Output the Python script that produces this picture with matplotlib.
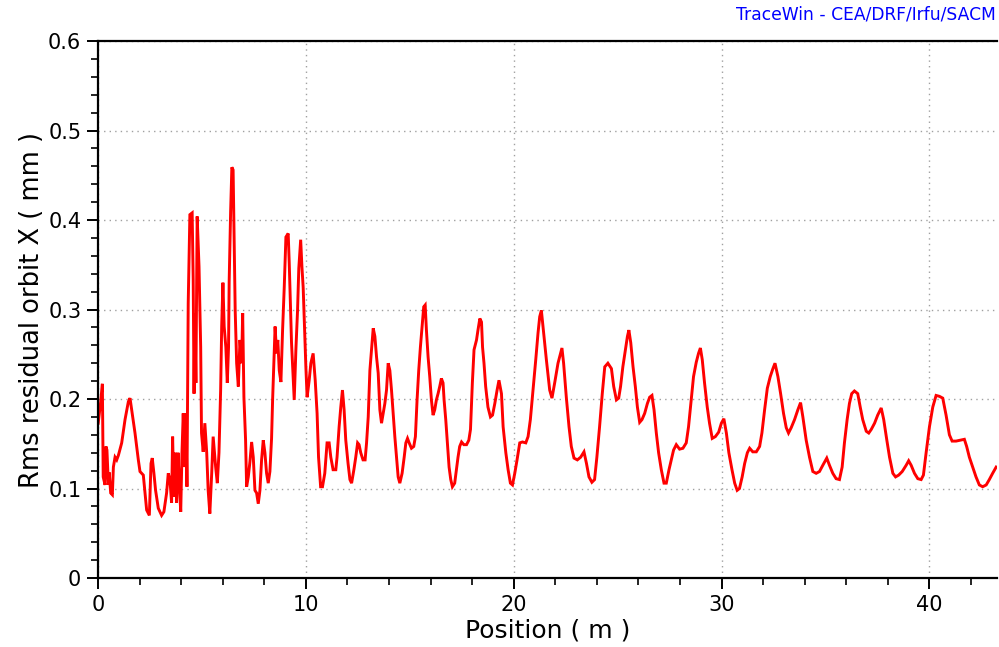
import matplotlib
matplotlib.use("Agg")
import matplotlib.pyplot as plt
from matplotlib.ticker import MultipleLocator, FuncFormatter

# Position (m)
position = [0.01, 0.13, 0.21, 0.25, 0.34, 0.38, 0.43, 0.50, 0.54, 0.61, 0.69, 0.74, 0.82, 0.90, 0.98,
            1.14, 1.30, 1.46, 1.54, 1.62, 1.78, 1.94, 2.02, 2.18, 2.26, 2.34, 2.47, 2.55, 2.61, 2.69,
            2.77, 2.90, 3.06, 3.17, 3.30, 3.38, 3.46, 3.54, 3.59, 3.65, 3.72, 3.78, 3.85, 3.91, 3.98,
            4.04, 4.10, 4.18, 4.23, 4.28, 4.34, 4.42, 4.53, 4.58, 4.62, 4.66, 4.71, 4.77, 4.86, 4.94,
            4.98, 5.06, 5.14, 5.23, 5.30, 5.38, 5.47, 5.54, 5.66, 5.74, 5.82, 5.90, 5.95, 6.01, 6.07,
            6.15, 6.22, 6.28, 6.31, 6.38, 6.44, 6.50, 6.55, 6.60, 6.67, 6.75, 6.83, 6.91, 6.96, 7.02,
            7.10, 7.15, 7.23, 7.31, 7.39, 7.47, 7.55, 7.63, 7.71, 7.79, 7.87, 7.95, 8.03, 8.11, 8.19,
            8.27, 8.35, 8.40, 8.46, 8.52, 8.59, 8.65, 8.72, 8.80, 8.88, 8.96, 9.04, 9.15, 9.20, 9.26,
            9.31, 9.39, 9.44, 9.52, 9.60, 9.66, 9.75, 9.81, 9.87, 9.94, 10.00, 10.06, 10.16, 10.24, 10.35,
            10.45, 10.54, 10.61, 10.71, 10.80, 10.91, 11.02, 11.12, 11.20, 11.31, 11.44, 11.50, 11.60, 11.68, 11.76,
            11.84, 11.92, 12.03, 12.12, 12.20, 12.31, 12.40, 12.49, 12.56, 12.64, 12.75, 12.85, 12.92, 13.00, 13.08,
            13.16, 13.24, 13.32, 13.40, 13.48, 13.56, 13.64, 13.72, 13.80, 13.88, 13.96, 14.04, 14.12, 14.20, 14.28,
            14.36, 14.44, 14.52, 14.63, 14.73, 14.81, 14.89, 14.97, 15.08, 15.19, 15.27, 15.35, 15.43, 15.51, 15.59,
            15.67, 15.74, 15.80, 15.88, 15.96, 16.04, 16.12, 16.20, 16.28, 16.36, 16.44, 16.52, 16.60, 16.65, 16.73,
            16.81, 16.89, 16.97, 17.05, 17.16, 17.24, 17.32, 17.40, 17.49, 17.60, 17.73, 17.84, 17.92, 18.01, 18.09,
            18.21, 18.28, 18.37, 18.45, 18.50, 18.57, 18.65, 18.76, 18.88, 18.98, 19.09, 19.20, 19.29, 19.41, 19.49,
            19.62, 19.73, 19.84, 19.94, 20.05, 20.16, 20.29, 20.42, 20.58, 20.69, 20.80, 20.93, 21.06, 21.17, 21.25,
            21.33, 21.44, 21.57, 21.73, 21.84, 21.97, 22.13, 22.25, 22.32, 22.40, 22.53, 22.66, 22.77, 22.90, 23.06,
            23.22, 23.38, 23.50, 23.62, 23.76, 23.89, 24.00, 24.13, 24.26, 24.38, 24.53, 24.70, 24.81, 24.94, 25.05,
            25.14, 25.25, 25.37, 25.47, 25.54, 25.63, 25.74, 25.85, 25.95, 26.06, 26.17, 26.30, 26.43, 26.54, 26.65,
            26.75, 26.86, 26.97, 27.10, 27.23, 27.34, 27.47, 27.58, 27.69, 27.82, 27.98, 28.14, 28.30, 28.41, 28.54,
            28.65, 28.78, 28.89, 28.98, 29.07, 29.18, 29.31, 29.42, 29.55, 29.70, 29.86, 29.99, 30.11, 30.23, 30.35,
            30.50, 30.63, 30.75, 30.86, 30.99, 31.11, 31.24, 31.35, 31.50, 31.67, 31.83, 31.94, 32.07, 32.20, 32.34,
            32.47, 32.57, 32.71, 32.84, 32.98, 33.11, 33.22, 33.35, 33.51, 33.67, 33.80, 33.91, 34.07, 34.23, 34.39,
            34.55, 34.71, 34.87, 35.06, 35.19, 35.35, 35.51, 35.67, 35.80, 35.91, 36.04, 36.15, 36.26, 36.39, 36.55,
            36.67, 36.79, 36.96, 37.08, 37.20, 37.36, 37.51, 37.68, 37.80, 37.95, 38.08, 38.24, 38.37, 38.52, 38.69,
            38.88, 39.00, 39.12, 39.28, 39.44, 39.60, 39.71, 39.84, 40.00, 40.16, 40.32, 40.48, 40.64, 40.80, 40.96,
            41.09, 41.28, 41.48, 41.68, 41.79, 41.92, 42.08, 42.24, 42.40, 42.56, 42.73, 42.88, 43.04, 43.21]

# Rms residual orbit X (mm)
rms_orbit_x = [0.173, 0.197, 0.217, 0.113, 0.104, 0.147, 0.143, 0.104, 0.118, 0.095, 0.093, 0.124, 0.135, 0.132, 0.137,
               0.151, 0.177, 0.197, 0.201, 0.188, 0.162, 0.132, 0.119, 0.115, 0.096, 0.076, 0.070, 0.128, 0.134, 0.117,
               0.098, 0.078, 0.070, 0.074, 0.095, 0.117, 0.110, 0.084, 0.158, 0.091, 0.140, 0.084, 0.140, 0.106, 0.074,
               0.140, 0.184, 0.124, 0.184, 0.102, 0.307, 0.406, 0.408, 0.333, 0.206, 0.296, 0.218, 0.404, 0.348, 0.258,
               0.162, 0.141, 0.173, 0.140, 0.098, 0.072, 0.117, 0.158, 0.124, 0.106, 0.140, 0.210, 0.281, 0.330, 0.281,
               0.258, 0.218, 0.258, 0.331, 0.409, 0.459, 0.456, 0.374, 0.299, 0.240, 0.214, 0.266, 0.240, 0.296, 0.202,
               0.154, 0.102, 0.113, 0.130, 0.152, 0.135, 0.098, 0.095, 0.083, 0.098, 0.132, 0.154, 0.140, 0.117, 0.106,
               0.119, 0.156, 0.199, 0.240, 0.281, 0.251, 0.266, 0.232, 0.219, 0.277, 0.325, 0.381, 0.385, 0.352, 0.303,
               0.263, 0.225, 0.199, 0.255, 0.299, 0.346, 0.378, 0.348, 0.325, 0.277, 0.236, 0.202, 0.221, 0.240, 0.251,
               0.221, 0.184, 0.135, 0.102, 0.102, 0.117, 0.151, 0.151, 0.135, 0.121, 0.121, 0.135, 0.169, 0.191, 0.210,
               0.188, 0.154, 0.128, 0.110, 0.106, 0.121, 0.135, 0.151, 0.149, 0.140, 0.132, 0.132, 0.151, 0.180, 0.232,
               0.255, 0.279, 0.270, 0.247, 0.229, 0.188, 0.173, 0.184, 0.195, 0.210, 0.240, 0.232, 0.210, 0.184, 0.158,
               0.135, 0.113, 0.106, 0.117, 0.135, 0.151, 0.156, 0.151, 0.145, 0.147, 0.158, 0.199, 0.232, 0.258, 0.281,
               0.303, 0.305, 0.277, 0.247, 0.225, 0.199, 0.182, 0.188, 0.199, 0.206, 0.214, 0.223, 0.218, 0.199, 0.177,
               0.151, 0.124, 0.110, 0.102, 0.106, 0.121, 0.135, 0.147, 0.152, 0.149, 0.149, 0.154, 0.166, 0.218, 0.255,
               0.266, 0.277, 0.290, 0.286, 0.258, 0.240, 0.214, 0.191, 0.180, 0.182, 0.195, 0.210, 0.221, 0.206, 0.169,
               0.140, 0.121, 0.106, 0.104, 0.117, 0.132, 0.151, 0.152, 0.151, 0.158, 0.177, 0.210, 0.244, 0.274, 0.292,
               0.299, 0.274, 0.244, 0.210, 0.201, 0.218, 0.240, 0.251, 0.257, 0.240, 0.202, 0.169, 0.147, 0.134, 0.132,
               0.135, 0.141, 0.128, 0.113, 0.107, 0.110, 0.135, 0.169, 0.206, 0.236, 0.240, 0.234, 0.214, 0.199, 0.201,
               0.214, 0.236, 0.255, 0.270, 0.277, 0.263, 0.236, 0.214, 0.191, 0.174, 0.177, 0.184, 0.195, 0.202, 0.204,
               0.188, 0.162, 0.140, 0.121, 0.106, 0.106, 0.121, 0.132, 0.143, 0.149, 0.144, 0.145, 0.151, 0.169, 0.199,
               0.225, 0.241, 0.251, 0.257, 0.244, 0.218, 0.191, 0.173, 0.156, 0.158, 0.163, 0.173, 0.178, 0.162, 0.140,
               0.121, 0.106, 0.098, 0.100, 0.113, 0.128, 0.140, 0.145, 0.141, 0.141, 0.147, 0.162, 0.188, 0.212, 0.225,
               0.234, 0.240, 0.225, 0.206, 0.184, 0.168, 0.162, 0.168, 0.177, 0.188, 0.196, 0.180, 0.154, 0.135, 0.119,
               0.117, 0.119, 0.126, 0.134, 0.126, 0.117, 0.111, 0.110, 0.124, 0.151, 0.177, 0.195, 0.206, 0.209, 0.206,
               0.191, 0.177, 0.164, 0.162, 0.166, 0.173, 0.182, 0.190, 0.177, 0.154, 0.135, 0.117, 0.113, 0.115, 0.119,
               0.126, 0.131, 0.126, 0.117, 0.111, 0.110, 0.115, 0.140, 0.169, 0.191, 0.204, 0.203, 0.201, 0.182, 0.160,
               0.153, 0.153, 0.154, 0.155, 0.147, 0.135, 0.124, 0.113, 0.104, 0.102, 0.104, 0.110, 0.117, 0.124]

x_max = 43.25
y_max = 0.6

fig = plt.figure(figsize=(9.99, 6.47), dpi=100)
ax = fig.add_axes([0.0981, 0.1066, 0.8999, 0.830])

ax.plot(position, rms_orbit_x, color="#ff0000", linewidth=2.1, solid_joinstyle="miter")

ax.set_xlim(0, x_max)
ax.set_ylim(0, y_max)

ax.xaxis.set_major_locator(MultipleLocator(10))
ax.xaxis.set_minor_locator(MultipleLocator(2))
ax.yaxis.set_major_locator(MultipleLocator(0.1))
ax.yaxis.set_minor_locator(MultipleLocator(0.02))
ax.yaxis.set_major_formatter(FuncFormatter(lambda v, p: f"{v:g}"))
ax.xaxis.set_major_formatter(FuncFormatter(lambda v, p: f"{v:g}"))

ax.tick_params(which="major", direction="out", length=8, width=1.4, labelsize=15,
               colors="black", pad=4)
ax.tick_params(which="minor", direction="out", length=5, width=1.2)

ax.grid(which="major", linestyle=(0, (1, 3)), color="#a0a0a0", linewidth=1.0)

for side in ["left", "bottom", "top"]:
    ax.spines[side].set_linewidth(1.6)
ax.spines["right"].set_visible(False)

ax.set_xlabel("Position ( m )", fontsize=18, labelpad=3)
ax.set_ylabel("Rms residual orbit X ( mm )", fontsize=18.5, labelpad=2)

fig.text(0.997, 0.977, "TraceWin - CEA/DRF/Irfu/SACM", color="#0000ff", fontsize=12.3,
         ha="right", va="center")

fig.savefig("out.png", dpi=100)
